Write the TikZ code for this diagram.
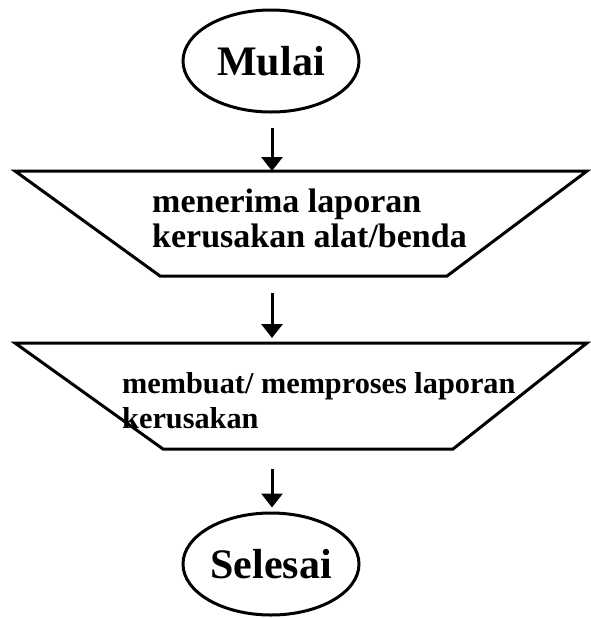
\documentclass[tikz,border=0pt]{standalone}
\usepackage{fontspec}
\setmainfont{Liberation Serif}
\usetikzlibrary{arrows.meta,shapes.geometric}
\begin{document}
\begin{tikzpicture}[x=1pt,y=-1pt,
  term/.style={ellipse,draw,line width=3pt,minimum width=176pt,minimum height=102pt,
    inner sep=0pt,font=\fontsize{42}{46}\selectfont\bfseries},
  iobox/.style={draw,line width=3pt,line join=miter},
  boxtext/.style={anchor=base west,align=left,inner sep=0pt},
  flow/.style={line width=3pt,-{Triangle[width=21pt,length=14pt]}}]
\useasboundingbox (0,0) rectangle (590,619);
% start terminal
\node[term] (mulai) at (271,61) {Mulai};
% first input/output box
\draw[iobox] (15,171) -- (587,171) -- (447,276) -- (160,276) -- cycle;
\coordinate (in1) at (272,171);
\coordinate (out1) at (272,276);
\node[boxtext,font=\fontsize{34}{35}\selectfont\bfseries] (txt1) at (152,247)
  {menerima laporan\\kerusakan alat/benda};
% second input/output box
\draw[iobox] (15,343) -- (587,343) -- (453,449) -- (163,449) -- cycle;
\coordinate (in2) at (272,343);
\coordinate (out2) at (272,449);
\node[boxtext,font=\fontsize{30.3}{35}\selectfont\bfseries] (txt2) at (122,428)
  {membuat/ memproses laporan\\kerusakan};
% end terminal
\node[term] (selesai) at (271,564) {Selesai};
% connectors
\draw[flow,shorten <=14pt] (mulai.south -| in1) -- (in1);
\draw[flow,shorten <=17pt,shorten >=5pt] (out1) -- (in2);
\draw[flow,shorten <=20pt,shorten >=4pt] (out2) -- (selesai.north -| out2);
\end{tikzpicture}
\end{document}
